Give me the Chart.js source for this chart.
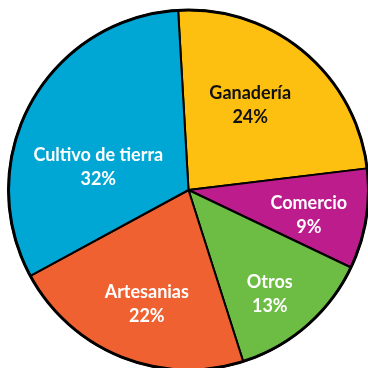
<!DOCTYPE html>
<html>
<head>
<meta charset="utf-8">
<script src="https://cdn.jsdelivr.net/npm/chart.js@4/dist/chart.umd.min.js"></script>
<style>
  html, body { margin: 0; padding: 0; background: #fff; overflow: hidden; }
  .wrap { position: absolute; left: 0; top: 0; width: 377px; height: 380px; }
</style>
</head>
<body>
<div class="wrap"><canvas id="sectorChart"></canvas></div>
<script>
const categories = ['Ganadería', 'Comercio', 'Otros', 'Artesanias', 'Cultivo de tierra'];
const shares = [24, 9, 13, 22, 32];
const sliceColors = ['#fdc010', '#bd1c8d', '#6dbd45', '#f06131', '#00a7d5'];
const labelColors = ['#111111', '#ffffff', '#ffffff', '#ffffff', '#ffffff'];

// label placement: [degrees clockwise from top, distance from centre]
const labelSpots = [[36, 105], [102, 123], [142, 132], [200, 122], [284, 93]];

const sliceLabels = {
  id: 'sliceLabels',
  afterDatasetsDraw(chart) {
    const ctx = chart.ctx;
    const arc = chart.getDatasetMeta(0).data[0];
    const cx = arc.x, cy = arc.y;

    // heavier outer rim
    ctx.save();
    ctx.beginPath();
    ctx.arc(cx, cy, arc.outerRadius, 0, Math.PI * 2);
    ctx.lineWidth = 3;
    ctx.strokeStyle = '#000';
    ctx.stroke();

    ctx.font = 'bold 18px Lato';
    ctx.textAlign = 'center';
    ctx.textBaseline = 'middle';
    categories.forEach((name, i) => {
      const a = labelSpots[i][0] * Math.PI / 180;
      const r = labelSpots[i][1];
      const x = cx + Math.sin(a) * r;
      const y = cy - Math.cos(a) * r;
      ctx.fillStyle = labelColors[i];
      ctx.fillText(name, x, y - 12);
      ctx.fillText(shares[i] + '%', x, y + 12);
    });
    ctx.restore();
  }
};

const chart = document.getElementById('sectorChart').getContext('2d');
new Chart(chart, {
  type: 'pie',
  data: {
    labels: categories,
    datasets: [{
      data: shares,
      backgroundColor: sliceColors,
      borderColor: '#000',
      borderWidth: 2
    }]
  },
  options: {
    responsive: true,
    maintainAspectRatio: false,
    animation: false,
    rotation: -3.3,
    radius: 180,
    layout: { padding: 0 },
    plugins: {
      legend: { display: false },
      tooltip: { enabled: false }
    }
  },
  plugins: [sliceLabels]
});
</script>
</body>
</html>
